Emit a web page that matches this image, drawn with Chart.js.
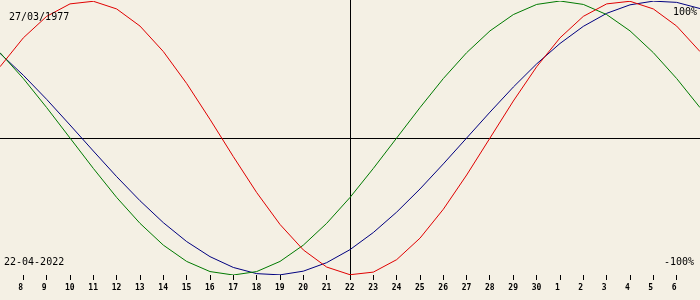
<!DOCTYPE html>
<html>
<head>
<meta charset="utf-8">
<script src="https://cdn.jsdelivr.net/npm/chart.js@4"></script>
<style>
  html, body { margin: 0; padding: 0; background: #f4f0e4; }
  #wrap { width: 700px; height: 300px; }
</style>
</head>
<body>
<div id="wrap"><canvas id="c" width="700" height="300"></canvas></div>
<script>
// Days (April numbering; 31 = 1 May ... 37 = 7 May)
const DAYS = [7,8,9,10,11,12,13,14,15,16,17,18,19,20,21,22,23,24,25,26,27,28,29,30,31,32,33,34,35,36,37];
// Physical (red)
const PHYSICAL = [52.0,73.1,88.8,97.9,99.8,94.2,81.7,63.1,39.8,13.6,-13.6,-39.8,-63.1,-81.7,-94.2,-99.8,-97.9,-88.8,-73.1,-52.0,-27.0,0,27.0,52.0,73.1,88.8,97.9,99.8,94.2,81.7,63.1];
// Emotional (green)
const EMOTIONAL = [62.3,43.4,22.2,0,-22.2,-43.4,-62.3,-78.2,-90.1,-97.5,-100,-97.5,-90.1,-78.2,-62.3,-43.4,-22.2,0,22.2,43.4,62.3,78.2,90.1,97.5,100,97.5,90.1,78.2,62.3,43.4,22.2];
// Intellectual (blue)
const INTELLECTUAL = [61.8,45.8,28.2,9.5,-9.5,-28.2,-45.8,-61.8,-75.6,-86.6,-94.5,-99.0,-99.9,-97.2,-91.0,-81.5,-69.0,-54.1,-37.2,-18.9,0,18.9,37.2,54.1,69.0,81.5,91.0,97.2,99.9,99.0,94.5];
// X tick positions and labels
const TICK_DAYS = [8,9,10,11,12,13,14,15,16,17,18,19,20,21,22,23,24,25,26,27,28,29,30,31,32,33,34,35,36];
const TICK_LABELS = ['8','9','10','11','12','13','14','15','16','17','18','19','20','21','22','23','24','25','26','27','28','29','30','1','2','3','4','5','6'];
const TODAY = 22;
const BIRTH_LABEL = '27/03/1977';
const DATE_LABEL = '22-04-2022';
const TOP_LABEL = '100%';
const BOTTOM_LABEL = '-100%';

const pts = arr => DAYS.map((d, i) => ({ x: d, y: arr[i] }));

const overlay = {
  id: 'overlay',
  beforeDraw(chart) {
    const ctx = chart.ctx;
    ctx.save();
    ctx.fillStyle = '#f4f0e4';
    ctx.fillRect(0, 0, chart.width, chart.height);
    ctx.restore();
  },
  beforeDatasetsDraw(chart) {
    const { ctx, chartArea: a, scales: { x, y } } = chart;
    ctx.save();
    ctx.strokeStyle = '#000';
    ctx.lineWidth = 1;
    const vx = Math.round(x.getPixelForValue(TODAY)) + 0.5;
    const hy = Math.round(y.getPixelForValue(0)) + 0.5;
    ctx.beginPath();
    ctx.moveTo(vx, 0); ctx.lineTo(vx, a.bottom);
    ctx.moveTo(0, hy); ctx.lineTo(chart.width, hy);
    ctx.stroke();
    ctx.restore();
  },
  afterDraw(chart) {
    const ctx = chart.ctx;
    ctx.save();
    ctx.fillStyle = '#000';
    ctx.font = '10px "DejaVu Sans Mono"';
    ctx.textBaseline = 'middle';
    ctx.textAlign = 'left';
    ctx.fillText(BIRTH_LABEL, 9, 17);
    ctx.fillText(DATE_LABEL, 4, 262);
    ctx.textAlign = 'right';
    ctx.fillText(TOP_LABEL, 697, 12);
    ctx.fillText(BOTTOM_LABEL, 694, 262);
    ctx.restore();
  }
};

new Chart(document.getElementById('c'), {
  type: 'line',
  data: {
    datasets: [
      { label: 'Physical', data: pts(PHYSICAL), borderColor: '#e00000', borderWidth: 1, pointRadius: 0, tension: 0, fill: false },
      { label: 'Emotional', data: pts(EMOTIONAL), borderColor: '#007a00', borderWidth: 1, pointRadius: 0, tension: 0, fill: false },
      { label: 'Intellectual', data: pts(INTELLECTUAL), borderColor: '#000080', borderWidth: 1, pointRadius: 0, tension: 0, fill: false }
    ]
  },
  options: {
    responsive: false,
    animation: false,
    events: [],
    layout: { padding: { top: 1, left: 0, right: 0, bottom: 0 } },
    plugins: { legend: { display: false }, tooltip: { enabled: false }, title: { display: false } },
    scales: {
      x: {
        type: 'linear', min: 7, max: 37,
        afterBuildTicks: s => { s.ticks = TICK_DAYS.map(v => ({ value: v })); },
        afterFit: s => { s.height = 25; },
        border: { display: false },
        grid: { drawOnChartArea: false, drawTicks: true, tickLength: 5, color: '#000', lineWidth: 1 },
        ticks: {
          callback: (v, i) => TICK_LABELS[i],
          align: 'start', labelOffset: -5, padding: 3,
          autoSkip: false, maxRotation: 0, minRotation: 0,
          color: '#000',
          font: { family: 'DejaVu Sans Mono', size: 8, weight: 'bold' }
        }
      },
      y: { display: false, min: -100, max: 100 }
    }
  },
  plugins: [overlay]
});
</script>
</body>
</html>
